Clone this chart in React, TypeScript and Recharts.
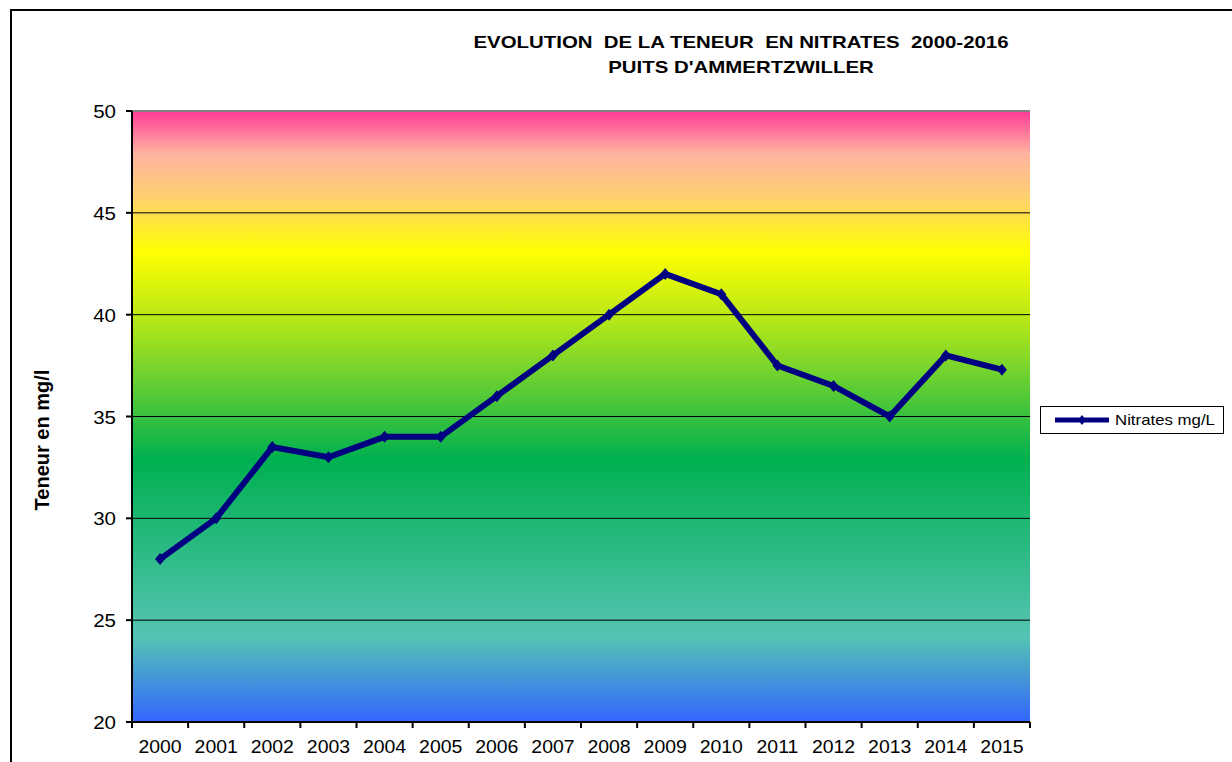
import { LineChart, Line, XAxis, YAxis, CartesianGrid, ReferenceLine } from 'recharts';

const years = ['2000', '2001', '2002', '2003', '2004', '2005', '2006', '2007', '2008', '2009', '2010', '2011', '2012', '2013', '2014', '2015'];
const nitrates = [28, 30, 33.5, 33, 34, 34, 36, 38, 40, 42, 41, 37.5, 36.5, 35, 38, 37.3];
const yTicks = [20, 25, 30, 35, 40, 45, 50];

const data = years.map((year, i) => ({ year, nitrates: nitrates[i] }));

const PLOT_BOTTOM = 722;
const HALF_STEP = 28.06;
const NAVY = '#000080';
const FONT = '"Liberation Sans", Arial, sans-serif';

const XTick = (props: any) => {
  const { x, payload, index } = props;
  return (
    <g>
      <line x1={x - HALF_STEP} y1={PLOT_BOTTOM} x2={x - HALF_STEP} y2={PLOT_BOTTOM + 6} stroke="#000" strokeWidth={2} />
      {index === years.length - 1 && (
        <line x1={x + HALF_STEP} y1={PLOT_BOTTOM} x2={x + HALF_STEP} y2={PLOT_BOTTOM + 6} stroke="#000" strokeWidth={2} />
      )}
      <text
        transform={`translate(${x}, ${PLOT_BOTTOM + 31}) scale(1.08, 1)`}
        textAnchor="middle"
        fontFamily={FONT}
        fontSize={18}
        fill="#000"
      >
        {payload.value}
      </text>
    </g>
  );
};

const YTick = (props: any) => {
  const { x, y, payload } = props;
  return (
    <text
      transform={`translate(${x}, ${y + 7}) scale(1.08, 1)`}
      textAnchor="end"
      fontFamily={FONT}
      fontSize={19}
      fill="#000"
    >
      {payload.value}
    </text>
  );
};

const Diamond = (props: any) => {
  const { cx, cy, index } = props;
  return (
    <path
      key={`d-${index}`}
      d={`M${cx},${cy - 6}L${cx + 5},${cy}L${cx},${cy + 6}L${cx - 5},${cy}Z`}
      fill={NAVY}
    />
  );
};

const LegendBox = () => (
  <div
    style={{
      position: 'absolute',
      left: 1040,
      top: 406,
      width: 182,
      height: 26,
      border: '1px solid #000',
      background: '#fff',
      fontFamily: FONT,
    }}
  >
    <svg width={60} height={26} style={{ position: 'absolute', left: 12, top: 0 }}>
      <line x1={2} y1={13} x2={56} y2={13} stroke={NAVY} strokeWidth={5} />
      <path d="M29,8L33,13L29,18L25,13Z" fill={NAVY} />
    </svg>
    <span
      style={{
        position: 'absolute',
        left: 74,
        top: 4,
        fontSize: 15,
        color: '#000',
        transform: 'scaleX(1.12)',
        transformOrigin: 'left center',
        whiteSpace: 'nowrap',
      }}
    >
      Nitrates mg/L
    </span>
  </div>
);

const App = () => {
  return (
    <div
      style={{
        position: 'absolute',
        left: 0,
        top: 0,
        width: 1232,
        height: 762,
        background: '#fff',
        overflow: 'hidden',
        fontFamily: FONT,
      }}
    >
      <svg width={0} height={0} style={{ position: 'absolute' }}>
        <defs>
          <linearGradient id="bgNitrates" x1="0" y1="0" x2="0" y2="1">
            <stop offset="0%" stopColor="#ff3c96" />
            <stop offset="7%" stopColor="#ffb4a0" />
            <stop offset="14%" stopColor="#ffd070" />
            <stop offset="23%" stopColor="#ffff00" />
            <stop offset="34%" stopColor="#b8e818" />
            <stop offset="57%" stopColor="#00b050" />
            <stop offset="86%" stopColor="#55c4b4" />
            <stop offset="100%" stopColor="#3366ff" />
          </linearGradient>
        </defs>
      </svg>

      <div
        style={{
          position: 'absolute',
          left: 10,
          top: 9,
          width: 1300,
          height: 800,
          borderLeft: '2px solid #000',
          borderTop: '2px solid #000',
        }}
      />

      <div
        style={{
          position: 'absolute',
          left: 0,
          width: 1482,
          top: 30,
          textAlign: 'center',
          fontSize: 17,
          fontWeight: 'bold',
          lineHeight: '25px',
          color: '#000',
          transform: 'scaleX(1.2)',
          transformOrigin: '741px 0',
          whiteSpace: 'pre',
        }}
      >
        {'EVOLUTION  DE LA TENEUR  EN NITRATES  2000-2016\nPUITS D\'AMMERTZWILLER'}
      </div>

      <div
        style={{
          position: 'absolute',
          left: 42,
          top: 440,
          transform: 'translate(-50%, -50%) rotate(-90deg)',
          fontSize: 20,
          fontWeight: 'bold',
          whiteSpace: 'nowrap',
          color: '#000',
        }}
      >
        Teneur en mg/l
      </div>

      <div style={{ position: 'absolute', left: 0, top: 0 }}>
        <LineChart width={1232} height={762} data={data} margin={{ top: 111, right: 202, bottom: 10, left: 72 }}>
          <CartesianGrid
            vertical={false}
            stroke="#000"
            strokeWidth={1}
            fill="url(#bgNitrates)"
            fillOpacity={1}
            yAxisId="left"
          />
          <ReferenceLine y={50} yAxisId="left" stroke="#808080" strokeWidth={2} />
          <XAxis
            dataKey="year"
            height={30}
            padding={{ left: HALF_STEP, right: HALF_STEP }}
            axisLine={{ stroke: '#000', strokeWidth: 2 }}
            tickLine={false}
            tick={<XTick />}
            interval={0}
          />
          <YAxis
            yAxisId="left"
            width={60}
            domain={[20, 50]}
            ticks={yTicks}
            interval={0}
            axisLine={{ stroke: '#000', strokeWidth: 2 }}
            tickLine={{ stroke: '#000', strokeWidth: 2 }}
            tickSize={6}
            tickMargin={10}
            tick={<YTick />}
          />
          <YAxis
            yAxisId="right"
            orientation="right"
            width={0}
            tick={false}
            tickLine={false}
            axisLine={{ stroke: '#808080', strokeWidth: 2 }}
          />
          <Line
            yAxisId="left"
            type="linear"
            dataKey="nitrates"
            name="Nitrates mg/L"
            stroke={NAVY}
            strokeWidth={6}
            dot={Diamond}
            activeDot={false}
            isAnimationActive={false}
          />
        </LineChart>
      </div>

      <LegendBox />
    </div>
  );
};

export default App;
